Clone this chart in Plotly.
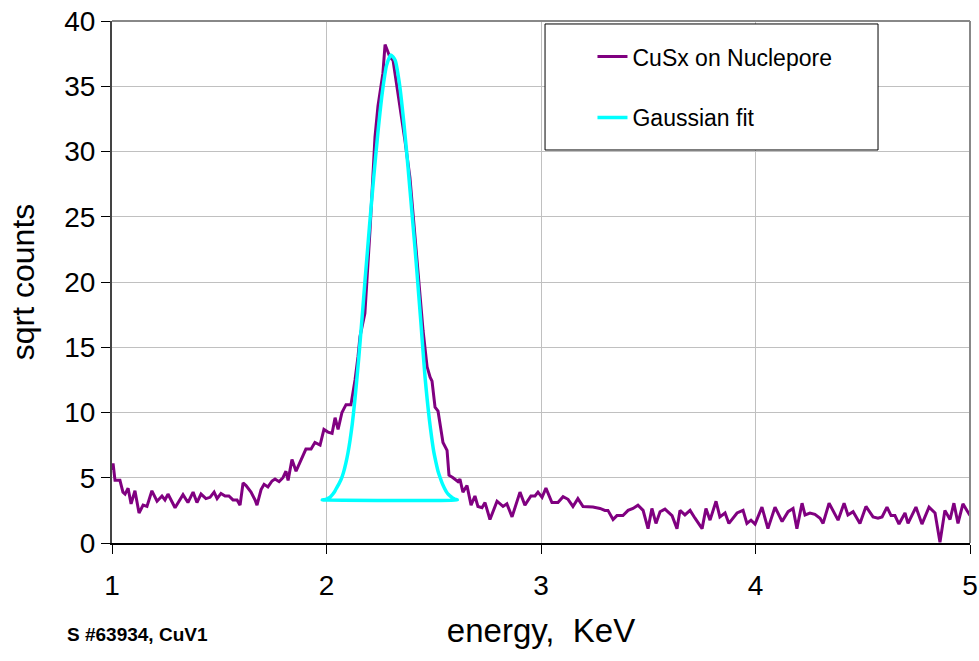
import plotly.graph_objects as go

# CuSx on Nuclepore spectrum (energy keV, sqrt counts)
energy = [1.000, 1.005, 1.014, 1.037, 1.051, 1.061, 1.075, 1.089, 1.107, 1.126,
          1.145, 1.163, 1.186, 1.210, 1.233, 1.247, 1.261, 1.294, 1.331, 1.354,
          1.378, 1.396, 1.415, 1.438, 1.457, 1.476, 1.490, 1.508, 1.527, 1.545,
          1.564, 1.583, 1.597, 1.611, 1.625, 1.648, 1.667, 1.676, 1.695, 1.709,
          1.727, 1.746, 1.760, 1.779, 1.797, 1.811, 1.821, 1.839, 1.858, 1.881,
          1.904, 1.928, 1.946, 1.970, 1.988, 2.007, 2.026, 2.040, 2.054, 2.072,
          2.091, 2.114, 2.133, 2.147, 2.156, 2.179, 2.203, 2.226, 2.240, 2.263,
          2.273, 2.287, 2.296, 2.310, 2.324, 2.343, 2.366, 2.389, 2.403, 2.427,
          2.450, 2.469, 2.483, 2.492, 2.506, 2.520, 2.543, 2.562, 2.571, 2.590,
          2.613, 2.622, 2.636, 2.655, 2.674, 2.692, 2.706, 2.725, 2.739, 2.762,
          2.795, 2.823, 2.841, 2.865, 2.902, 2.925, 2.953, 2.972, 2.986, 3.005,
          3.023, 3.051, 3.079, 3.103, 3.126, 3.149, 3.172, 3.196, 3.214, 3.242,
          3.275, 3.298, 3.312, 3.336, 3.354, 3.382, 3.406, 3.429, 3.452, 3.476,
          3.499, 3.517, 3.536, 3.555, 3.578, 3.611, 3.634, 3.648, 3.671, 3.695,
          3.718, 3.751, 3.769, 3.788, 3.816, 3.834, 3.858, 3.876, 3.914, 3.942,
          3.960, 3.979, 3.998, 4.030, 4.058, 4.091, 4.124, 4.152, 4.175, 4.193,
          4.217, 4.231, 4.254, 4.277, 4.301, 4.315, 4.343, 4.385, 4.413, 4.431,
          4.455, 4.487, 4.515, 4.548, 4.571, 4.590, 4.613, 4.632, 4.650, 4.669,
          4.697, 4.711, 4.748, 4.776, 4.809, 4.837, 4.860, 4.883, 4.907, 4.925,
          4.944, 4.967, 5.000]
sqrt_counts = [5.6, 6.1, 4.8, 4.8, 3.9, 3.75, 4.2, 3.0, 4.0, 2.3,
               2.9, 2.8, 4.0, 3.2, 3.6, 3.3, 3.75, 2.7, 3.7, 3.1,
               3.9, 3.1, 3.75, 3.4, 3.5, 3.9, 3.4, 3.8, 3.6, 3.6,
               3.3, 3.3, 2.9, 4.6, 4.4, 3.9, 3.3, 2.9, 4.1, 4.5,
               4.3, 4.75, 4.9, 4.7, 5.0, 5.5, 4.8, 6.4, 5.5, 6.3,
               7.2, 7.2, 7.7, 7.5, 8.7, 8.5, 8.4, 9.6, 8.7, 10.0,
               10.6, 10.6, 12.5, 14.3, 15.8, 17.6, 24.0, 31.1, 33.5, 36.0,
               38.2, 37.6, 37.2, 37.0, 35.5, 33.5, 30.8, 28.0, 25.3, 20.2,
               16.3, 13.5, 12.7, 12.4, 10.4, 10.1, 7.7, 7.1, 5.2, 5.0,
               4.7, 4.9, 3.9, 4.4, 2.9, 3.6, 2.8, 2.7, 3.1, 1.8,
               3.2, 2.8, 3.0, 2.0, 3.9, 2.9, 3.6, 3.6, 3.9, 3.5,
               4.2, 3.1, 3.1, 3.55, 3.35, 2.8, 3.4, 2.8, 2.8, 2.75,
               2.65, 2.5, 2.5, 1.8, 2.1, 2.1, 2.5, 2.65, 2.9, 2.5,
               1.1, 2.65, 1.5, 2.4, 2.6, 2.1, 1.1, 2.5, 2.15, 2.5,
               1.9, 1.1, 2.65, 1.75, 3.2, 2.0, 2.3, 1.5, 2.3, 2.5,
               1.5, 1.75, 1.45, 2.75, 1.1, 2.75, 1.65, 2.4, 2.65, 1.1,
               3.05, 2.15, 2.3, 2.2, 1.9, 1.5, 3.05, 1.75, 3.05, 2.15,
               2.4, 1.5, 2.8, 2.0, 1.9, 2.0, 2.75, 2.1, 2.1, 1.45,
               2.3, 1.5, 2.75, 1.45, 2.75, 2.3, 0.05, 2.5, 1.8, 3.05,
               1.5, 3.0, 2.1]

# Gaussian fit (closes back along its baseline)
fit_energy = [1.98, 1.99, 2.00, 2.01, 2.02, 2.03, 2.04, 2.05, 2.06, 2.07,
              2.08, 2.09, 2.10, 2.11, 2.12, 2.13, 2.14, 2.15, 2.16, 2.17,
              2.18, 2.19, 2.20, 2.22, 2.24, 2.26, 2.28, 2.30, 2.32, 2.34,
              2.36, 2.38, 2.40, 2.41, 2.42, 2.43, 2.44, 2.45, 2.46, 2.47,
              2.48, 2.49, 2.50, 2.51, 2.52, 2.53, 2.54, 2.55, 2.56, 2.57,
              2.58, 2.59, 2.60, 2.61, 1.98]
fit_values = [3.30, 3.32, 3.36, 3.44, 3.56, 3.75, 4.0, 4.3, 4.6, 4.95,
              5.45, 6.1, 6.9, 7.9, 9.1, 10.6, 12.3, 14.1, 16.1, 18.1,
              20.2, 22.2, 24.2, 28.0, 31.5, 34.5, 36.6, 37.4, 37.0, 35.2,
              32.3, 28.8, 25.0, 23.1, 21.1, 19.0, 16.9, 14.7, 12.6, 10.9,
              9.4, 8.1, 7.0, 6.2, 5.5, 5.0, 4.55, 4.2, 3.9, 3.7,
              3.55, 3.42, 3.35, 3.3, 3.3]

x_ticks = [1, 2, 3, 4, 5]
y_ticks = [0, 5, 10, 15, 20, 25, 30, 35, 40]

FONT = "Liberation Sans, Arial, sans-serif"

fig = go.Figure()
fig.add_trace(go.Scatter(x=energy, y=sqrt_counts, mode="lines",
                         name="CuSx on Nuclepore", legendgroup="a",
                         line=dict(color="#800080", width=3)))
fig.add_trace(go.Scatter(x=fit_energy, y=fit_values, mode="lines",
                         name="Gaussian fit", legendgroup="b",
                         line=dict(color="#00FFFF", width=3.5, shape="spline",
                                   smoothing=0.6)))

fig.update_layout(
    width=979, height=661,
    margin=dict(l=112, r=9, t=21, b=118, autoexpand=False),
    paper_bgcolor="white", plot_bgcolor="white",
    font=dict(family=FONT, color="black"),
    showlegend=True,
    legend=dict(x=0.56, y=0.973, xanchor="left", yanchor="top",
                bgcolor="rgba(0,0,0,0)", borderwidth=0,
                font=dict(size=23, family=FONT),
                traceorder="grouped", tracegroupgap=28),
    xaxis=dict(range=[1, 5], tickvals=x_ticks, ticktext=[str(v) for v in x_ticks],
               showgrid=True, gridcolor="#c0c0c0", gridwidth=1,
               ticks="outside", ticklen=9, tickcolor="black", tickwidth=1,
               showline=True, linecolor="black", linewidth=2,
               tickfont=dict(size=28), zeroline=False, automargin=False,
               ticklabelstandoff=7,
               title=dict(text="energy,  KeV", font=dict(size=33), standoff=19)),
    yaxis=dict(range=[0, 40], tickvals=y_ticks, ticktext=[str(v) for v in y_ticks],
               showgrid=True, gridcolor="#c0c0c0", gridwidth=1,
               ticks="outside", ticklen=9, tickcolor="black", tickwidth=1,
               showline=True, linecolor="#444444", linewidth=2,
               tickfont=dict(size=28), zeroline=False, automargin=False,
               title=dict(text="sqrt counts", font=dict(size=32), standoff=20)),
    shapes=[
        dict(type="line", xref="paper", yref="paper", x0=0, x1=1, y0=1, y1=1,
             line=dict(color="#888888", width=2), layer="above"),
        dict(type="line", xref="paper", yref="paper", x0=1, x1=1, y0=0, y1=1,
             line=dict(color="#888888", width=2), layer="above"),
        dict(type="rect", xref="paper", yref="paper",
             x0=0.5047, x1=0.8928, y0=0.7529, y1=0.9943,
             fillcolor="white", line=dict(color="black", width=1), layer="above"),
    ],
    annotations=[
        dict(text="<b>S #63934, CuV1</b>", xref="paper", yref="paper",
             x=-0.055, y=-0.175, xanchor="left", yanchor="middle",
             showarrow=False, font=dict(size=19, family=FONT)),
    ],
)

fig.write_html("out.html")
